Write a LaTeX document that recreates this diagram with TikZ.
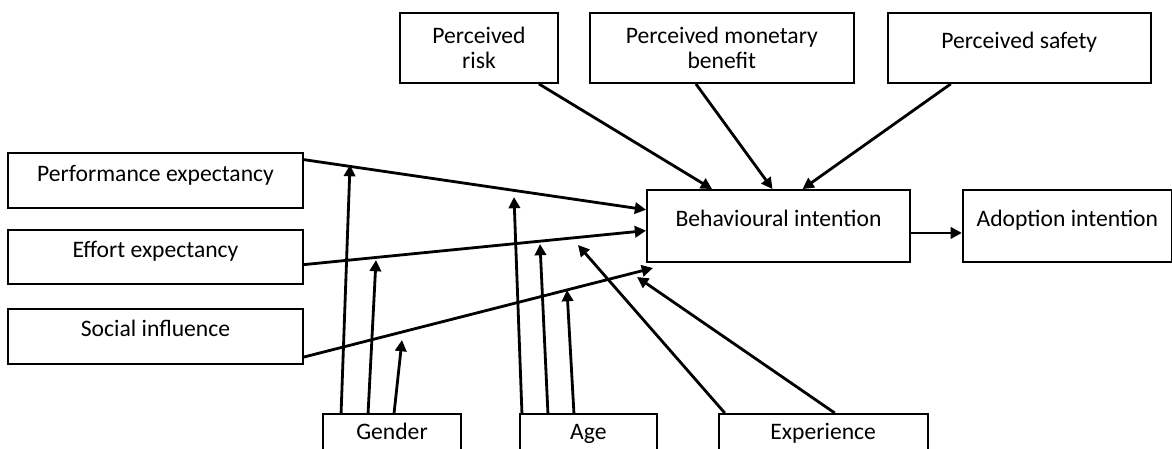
\documentclass[tikz,border=0pt]{standalone}
\usepackage{fontspec}
\setmainfont{Carlito}
\usetikzlibrary{arrows.meta,positioning,calc}

\begin{document}
\begin{tikzpicture}[
  x=0.025cm, y=-0.025cm,
  font=\fontsize{16.8}{18}\selectfont,
  factor/.style={
    rectangle,
    draw=black,
    line width=1.3pt,
    inner sep=0pt,
    align=center,
    text height=12pt,
    text depth=11pt
  },
  twoline/.style={
    rectangle,
    draw=black,
    line width=1.3pt,
    inner sep=0pt,
    align=center
  },
  boxsize/.style 2 args={minimum width=#1*0.025cm, minimum height=#2*0.025cm},
  arrow/.style={-{Triangle[length=8pt,width=8pt]}, line width=2pt}
]
\useasboundingbox (0,0) rectangle (1172,448);
\clip (0,0) rectangle (1172,448);

\node[factor, boxsize={295}{55}] (perf) at (155.5,180.5) {Performance expectancy};
\node[factor, boxsize={295}{54}, below=0.5cm of perf] (effort) {Effort expectancy};
\node[factor, boxsize={295}{55}, below=0.575cm of effort] (social) {Social influence};
\node[factor, boxsize={263}{72}] (bi) at (778.5,226) {Behavioural intention};
\node[factor, boxsize={209}{72}, right=1.275cm of bi] (adopt) {Adoption intention};
\node[twoline, boxsize={158}{70}] (risk) at (479,48) {Perceived\\risk};
\node[twoline, boxsize={264}{70}, right=0.75cm of risk] (money) {Perceived monetary\\benefit};
\node[factor, boxsize={263}{70}, right=0.8cm of money] (safety) {Perceived safety};
\node[factor, boxsize={138}{50}, anchor=north] (gender) at (392,413) {Gender};
\node[factor, boxsize={137}{50}, right=1.425cm of gender] (age) {Age};
\node[factor, boxsize={209}{50}, right=1.5cm of age] (exper) {Experience};

\coordinate (sitip) at (653,268);
\coordinate (gtip1) at (350,165);
\coordinate (gtip2) at (376,260);
\coordinate (gtip3) at (402,340);
\coordinate (atip1) at (514,197);
\coordinate (atip2) at (540,244);
\coordinate (atip3) at (567,290);
\coordinate (etip1) at (578,245);
\coordinate (etip2) at (637,277);

\draw[arrow] (perf.8) -- (bi.173);
\draw[arrow] (effort.-3.5) -- (bi.-178);
\draw[arrow] (social.-8) -- (sitip);
\draw[arrow] (bi.-3) -- (bi.-3 -| adopt.west);
\draw[arrow] ($(risk.south east)+(-20,0)$) -- ($(bi.north west)+(66,0)$);
\draw[arrow] ($(money.south west)+(107,0)$) -- ($(bi.north)+(-6,0)$);
\draw[arrow] ($(safety.south west)+(64,0)$) -- ($(bi.north)+(24,0)$);
\draw[arrow] ($(gender.north west)+(19,0)$) -- (gtip1);
\draw[arrow] ($(gender.north west)+(46,0)$) -- (gtip2);
\draw[arrow] ($(gender.north west)+(72,0)$) -- (gtip3);
\draw[arrow] ($(age.north west)+(3,0)$) -- (atip1);
\draw[arrow] ($(age.north west)+(29,0)$) -- (atip2);
\draw[arrow] ($(age.north west)+(55,0)$) -- (atip3);
\draw[arrow] ($(exper.north west)+(7,0)$) -- (etip1);
\draw[arrow] ($(exper.north west)+(117,0)$) -- (etip2);
\end{tikzpicture}
\end{document}
